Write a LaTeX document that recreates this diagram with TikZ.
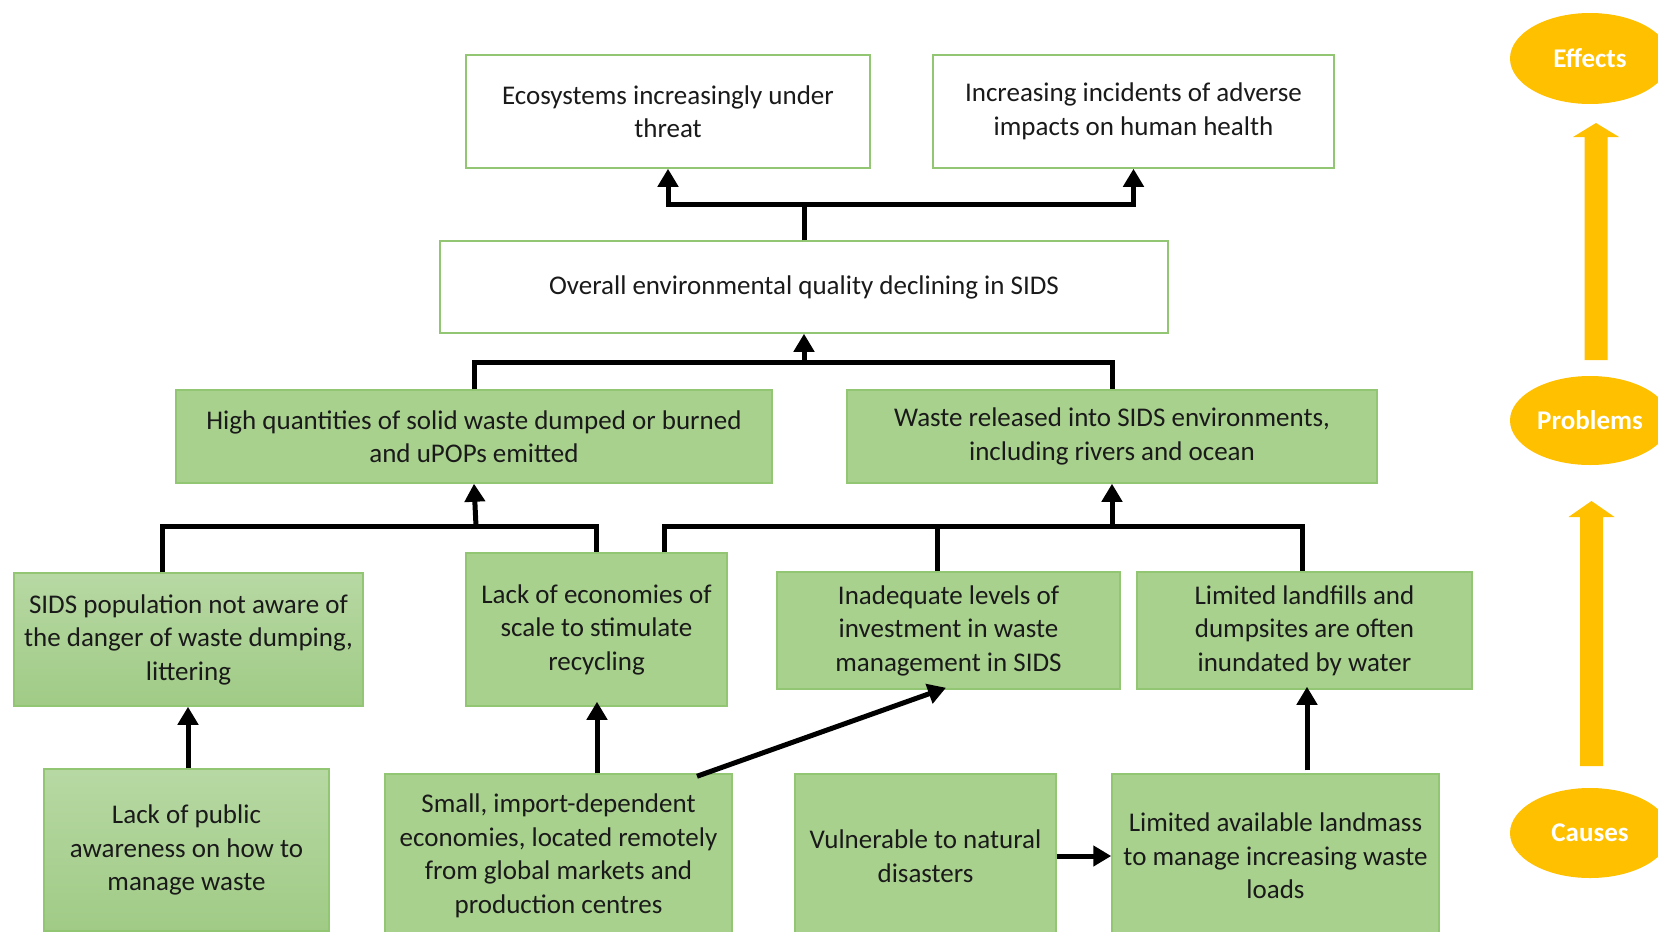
\documentclass[tikz,border=0pt]{standalone}
\usepackage{fontspec}
\setmainfont{Carlito}
\usetikzlibrary{arrows.meta,shapes.geometric}
\definecolor{leaf}{HTML}{A9D18E}
\definecolor{leaflight}{HTML}{B7D8A3}
\definecolor{leafdark}{HTML}{A0CB86}
\definecolor{leafedge}{HTML}{92C673}
\definecolor{amber}{HTML}{FFC000}
\definecolor{ink}{HTML}{1A1A1A}
\tikzset{
  box/.style={rectangle, draw=leafedge, line width=1.5pt, align=center, inner sep=0pt,
    text=ink, font=\fontsize{27}{33.5}\selectfont},
  effectbox/.style={box, fill=white},
  greenbox/.style={box, fill=leaf},
  gradbox/.style={box, top color=leaflight, bottom color=leafdark},
  wire/.style={line width=5pt, line join=miter},
  link/.style={line width=5pt, -{Triangle[length=18pt,width=20pt]}},
  stage/.style={ellipse, fill=amber, inner sep=0pt, text=white,
    font=\bfseries\fontsize{27}{32}\selectfont},
  bigarrow/.style={fill=amber},
}
\begin{document}
\begin{tikzpicture}[x=1pt,y=-1pt]
\useasboundingbox (0,0) rectangle (1658,932);
\clip (0,0) rectangle (1658,932);
\fill[white] (0,0) rectangle (1658,932);

% effects
\node[effectbox, minimum width=404, minimum height=113] (eco) at (668,111.5)
  {Ecosystems increasingly under\\threat};
\node[effectbox, minimum width=401, minimum height=113] (health) at (1133.5,111.5)
  {Increasing incidents of adverse\\impacts on human health};

% central problem
\node[effectbox, minimum width=728, minimum height=92] (overall) at (804,287)
  {Overall environmental quality declining in SIDS};

% problems
\node[greenbox, minimum width=596, minimum height=93] (hq) at (474,436.5)
  {High quantities of solid waste dumped or burned\\and uPOPs emitted};
\node[greenbox, minimum width=530, minimum height=93] (wr) at (1112,436.5)
  {Waste released into SIDS environments,\\including rivers and ocean};

% direct causes
\node[gradbox, minimum width=349, minimum height=133] (sids) at (188.5,639.5)
  {SIDS population not aware of\\the danger of waste dumping,\\littering};
\node[greenbox, minimum width=261, minimum height=153] (econ) at (596.5,629.5)
  {Lack of economies of\\scale to stimulate\\recycling};
\node[greenbox, minimum width=343, minimum height=117] (invest) at (948.5,630.5)
  {Inadequate levels of\\investment in waste\\management in SIDS};
\node[greenbox, minimum width=335, minimum height=117] (landfill) at (1304.5,630.5)
  {Limited landfills and\\dumpsites are often\\inundated by water};

% root causes
\node[gradbox, minimum width=285, minimum height=162] (public) at (186.5,850)
  {Lack of public\\awareness on how to\\manage waste};
\node[greenbox, minimum width=347, minimum height=164] (small) at (558.5,856)
  {Small, import-dependent\\economies, located remotely\\from global markets and\\production centres};
\node[greenbox, minimum width=261, minimum height=164] (vuln) at (925.5,856)
  {Vulnerable to natural\\disasters};
\node[greenbox, minimum width=327, minimum height=164] (land) at (1275.5,856)
  {Limited available landmass\\to manage increasing waste\\loads};

% overall -> effects
\coordinate (j1) at (804,204);
\draw[wire] (overall.north) -- (j1);
\draw[link] (j1) -| (eco.south);
\draw[link] (j1) -| (health.south);

% problems -> overall
\coordinate (j2) at (804,362);
\draw[wire] (hq.north) |- (j2) -| (wr.north);
\draw[link] (j2) -- (overall.south);

% causes -> solid waste
\coordinate (j3) at (476,526);
\draw[wire] ([xshift=-26.5pt]sids.north) |- (j3) -| (econ.north);
\draw[link] (j3) -- (hq.south);

% causes -> waste released
\coordinate (j4) at (1112,526);
\draw[wire] ([xshift=67.5pt]econ.north) |- (j4) -| ([xshift=-11.5pt]invest.north);
\draw[wire] (j4) -| ([xshift=-2.5pt]landfill.north);
\draw[link] (j4) -- (wr.south);

% root causes -> direct causes
\draw[link] ([xshift=1.5pt]public.north) -- ([xshift=-0.5pt]sids.south);
\draw[link] ([xshift=38.5pt]small.north) -- ([xshift=0.5pt,yshift=5pt]econ.south);
\draw[link] ([xshift=138.5pt,yshift=-3pt]small.north) -- ([xshift=-2.5pt,yshift=2pt]invest.south);
\draw[link] (vuln.east) -- (land.west);
\draw[link] ([xshift=31.5pt,yshift=3pt]land.north) -- ([xshift=2.5pt,yshift=3pt]landfill.south);

% stage legend
\node[stage, minimum width=160, minimum height=91] (effects) at (1590,58.5) {Effects};
\node[stage, minimum width=160, minimum height=89] (problems) at (1590,420.5) {Problems};
\node[stage, minimum width=160, minimum height=90] (causes) at (1590,833) {Causes};
\fill[bigarrow] (1584.5,360) -- (1584.5,137) -- (1573,137) -- (1596,123)
  -- (1619,137) -- (1607.5,137) -- (1607.5,360) -- cycle;
\fill[bigarrow] (1580,766) -- (1580,517) -- (1568.5,517) -- (1591.5,501)
  -- (1614.5,517) -- (1603,517) -- (1603,766) -- cycle;
\end{tikzpicture}
\end{document}
